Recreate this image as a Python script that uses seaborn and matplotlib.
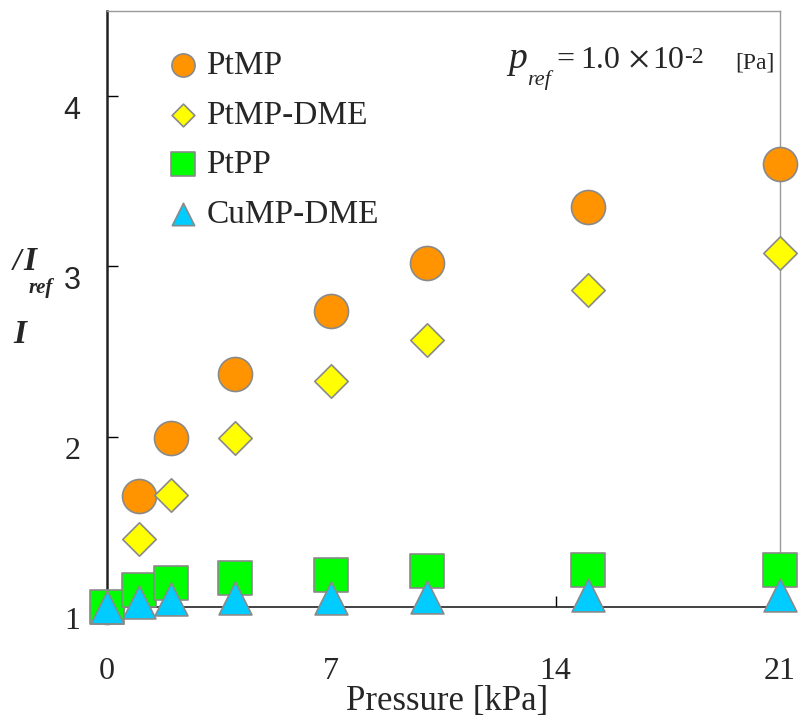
import matplotlib
matplotlib.use("Agg")
import matplotlib.pyplot as plt
import matplotlib.transforms as mtransforms
from matplotlib.font_manager import FontProperties
import seaborn as sns

# data
pressure = [0, 1, 2, 4, 7, 10, 15, 21]
ptmp = [1.0, 1.65, 1.99, 2.37, 2.74, 3.02, 3.35, 3.60]
ptmp_dme = [1.0, 1.40, 1.66, 1.99, 2.33, 2.57, 2.86, 3.08]
ptpp = [1.0, 1.10, 1.14, 1.17, 1.19, 1.21, 1.22, 1.22]
cump_dme = [1.0, 1.03, 1.045, 1.05, 1.055, 1.06, 1.07, 1.07]

x_ticks = [0, 7, 14, 21]
y_ticks = [1, 2, 3, 4]

sns.set_style("ticks")
plt.rcParams['font.family'] = ['Liberation Serif', 'DejaVu Serif']

fig = plt.figure(figsize=(7.99, 7.2), dpi=100)
W, H = 799, 720
ax = fig.add_axes([107 / W, 1 - 607 / H, 673 / W, 596 / H])

edge = '#8a8a8a'
series = [
    ('PtMP', ptmp, 'o', '#ff9400', 600),
    ('PtMP-DME', ptmp_dme, 'D', '#ffff00', 290),
    ('PtPP', ptpp, 's', '#00ff00', 600),
    ('CuMP-DME', cump_dme, '^', '#00ccff', 560),
]
for i, (name, vals, mk, col, size) in enumerate(series):
    sns.scatterplot(x=pressure, y=vals, marker=mk, s=size, color=col,
                    edgecolor=edge, linewidth=1.2, label=name, ax=ax,
                    clip_on=False, zorder=4 + i)

ax.set_xlim(0, 21)
ax.set_ylim(1, 4.5)
ax.set_xticks(x_ticks)
ax.set_yticks(y_ticks)
ax.tick_params(axis='both', direction='in', length=8, width=1, color='black')
ax.tick_params(axis='y', pad=19)
ax.tick_params(axis='x', pad=36)

serif = FontProperties(family='Liberation Serif', size=23)
sans = FontProperties(family='Liberation Sans', size=22)
xlabs = ax.set_xticklabels([str(t) for t in x_ticks])
for lab in xlabs:
    lab.set_fontproperties(serif)
ylabs = ax.set_yticklabels([str(t) for t in y_ticks])
for lab in ylabs:
    lab.set_fontproperties(sans if lab.get_text() in ('3', '4') else serif)
    lab.set_transform(lab.get_transform() +
                      mtransforms.ScaledTranslation(0, -11 / 100, fig.dpi_scale_trans))

for side in ('left', 'bottom'):
    ax.spines[side].set_color('#222222')
ax.spines['left'].set_linewidth(1.8)
ax.spines['bottom'].set_linewidth(1.2)
for side in ('top', 'right'):
    ax.spines[side].set_color('#999999')
    ax.spines[side].set_linewidth(1.0)

ax.set_xlabel('Pressure [kPa]', fontsize=25)
ax.xaxis.set_label_coords(0.505, -0.131)
ax.set_ylabel('')

# broken-looking y label as in the reference
fig.text(13 / W, 1 - 270 / H, '/', fontsize=22, style='italic', weight='bold')
fig.text(23 / W, 1 - 270 / H, 'I', fontsize=24, style='italic', weight='bold')
fig.text(29 / W, 1 - 293 / H, 'ref', fontsize=15, style='italic', weight='bold')
fig.text(13 / W, 1 - 343 / H, 'I', fontsize=24, style='italic', weight='bold')

# reference pressure note
fig.text(508 / W, 1 - 68 / H, 'p', fontsize=27, style='italic')
fig.text(527 / W, 1 - 85 / H, 'ref', fontsize=16, style='italic')
fig.text(556 / W, 1 - 68 / H, '=', fontsize=23)
fig.text(580 / W, 1 - 68 / H, '1.0', fontsize=23)
fig.text(627 / W, 1 - 73 / H, '\u00d7', fontsize=31)
fig.text(652 / W, 1 - 68 / H, '10', fontsize=23)
fig.text(684 / W, 1 - 63 / H, '-2', fontsize=17)
fig.text(735 / W, 1 - 68 / H, '[Pa]', fontsize=17)

leg = ax.legend(loc='upper left', bbox_to_anchor=(0.073, 0.956), frameon=False,
                fontsize=24, markerscale=0.68, handlelength=0.8,
                handletextpad=0.3, labelspacing=0.57, borderaxespad=0)

fig.savefig('out.png', dpi=100)
